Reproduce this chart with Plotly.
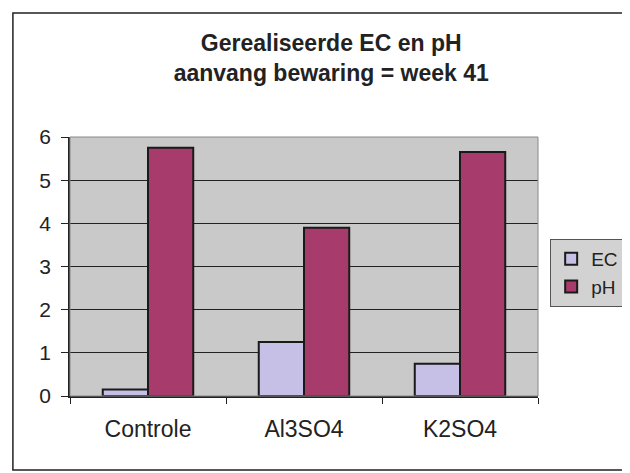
import plotly.graph_objects as go

# data
categories = ["Controle", "Al3SO4", "K2SO4"]
ec_values = [0.15, 1.25, 0.75]
ph_values = [5.75, 3.9, 5.65]
y_ticks = [0, 1, 2, 3, 4, 5, 6]

fig = go.Figure()
fig.add_trace(go.Bar(x=categories, y=ec_values, name="EC",
                     marker=dict(color="#c6bfe6", line=dict(color="#1a1a1a", width=2))))
fig.add_trace(go.Bar(x=categories, y=ph_values, name="pH",
                     marker=dict(color="#a63b6c", line=dict(color="#1a1a1a", width=2))))

fig.update_layout(
    width=630, height=473,
    margin=dict(l=62, r=100, t=129, b=85, autoexpand=False),
    paper_bgcolor="white",
    plot_bgcolor="#c9c9c9",
    font=dict(family="Liberation Sans, Arial", size=22, color="#222"),
    title=dict(text="<b>Gerealiseerde EC en pH<br>aanvang bewaring = week 41</b>",
               x=0.513, xanchor="center", y=0.909, yanchor="middle",
               font=dict(size=23)),
    barmode="group", bargap=0.42, bargroupgap=0,
    legend=dict(x=1.026, y=0.475, xanchor="left", yanchor="middle",
                bgcolor="#d2d2d2", bordercolor="#555", borderwidth=1,
                font=dict(size=19), itemwidth=30, tracegroupgap=0),
    showlegend=True,
)
fig.update_yaxes(range=[0, 6], tickvals=y_ticks, showgrid=True, gridcolor="#222", gridwidth=1,
                 showline=True, linecolor="#222", linewidth=1.5, ticks="outside", ticklen=7,
                 tickcolor="#222", zeroline=False, tickfont=dict(size=21),
                 ticklabelstandoff=6)
fig.update_xaxes(showline=True, linecolor="#222", linewidth=1.5, ticks="outside", ticklen=6,
                 tickcolor="#222", tickson="boundaries", tickfont=dict(size=23),
                 ticklabelstandoff=12)

# grey frame on the right/top of plot area, black chart border
fig.add_shape(type="rect", xref="paper", yref="paper", x0=0, x1=1, y0=0, y1=1,
              line=dict(color="#888", width=1))
fig.add_shape(type="rect", xref="paper", yref="paper",
              x0=-0.122, x1=1.235, y0=-0.286, y1=1.479,
              line=dict(color="#222", width=1.5))

fig.write_html("out.html")
